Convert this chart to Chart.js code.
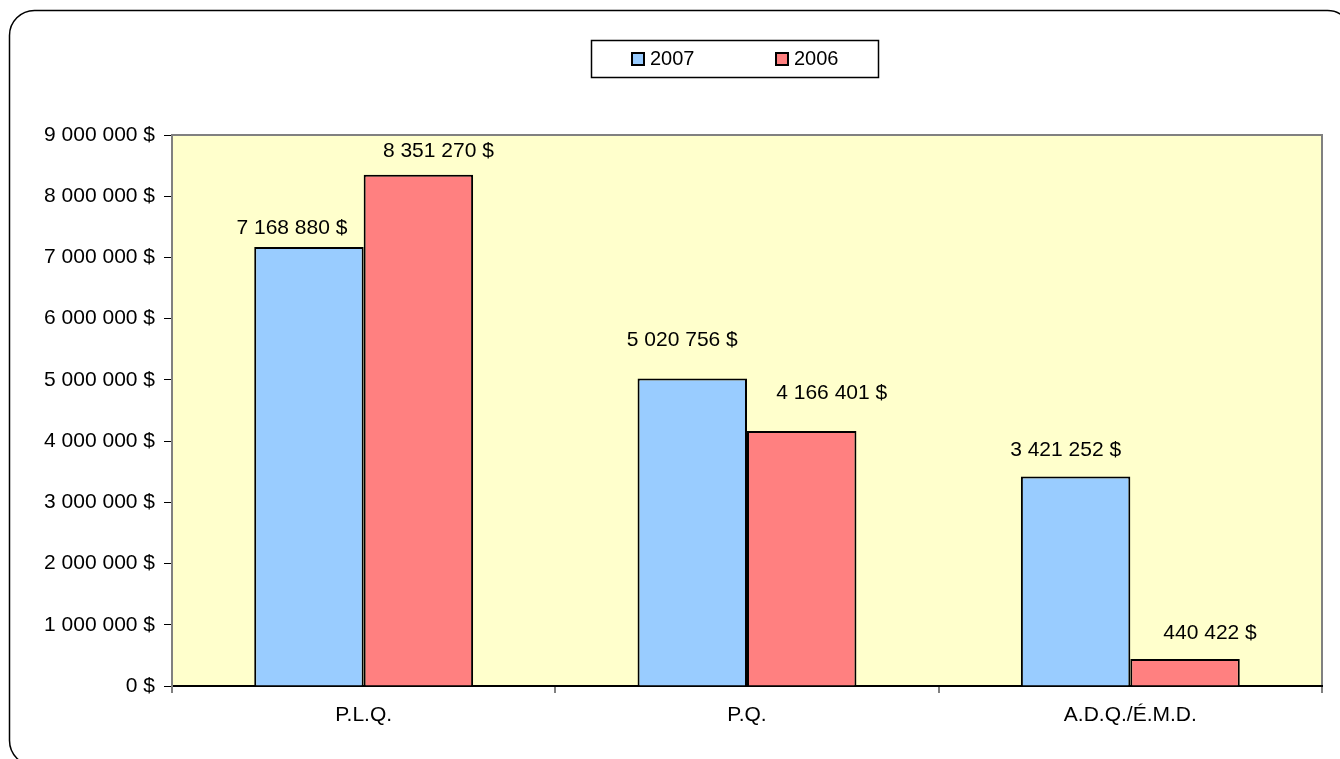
<!DOCTYPE html>
<html>
<head>
<meta charset="utf-8">
<title>P.L.Q. / P.Q. / A.D.Q.</title>
<script src="https://cdn.jsdelivr.net/npm/chart.js@4"></script>
<style>
    body { margin: 0; background: #fff; }
    #wrap { width: 1340px; height: 759px; }
</style>
</head>
<body>
<div id="wrap"><canvas id="barChart"></canvas></div>
<script>
// Chart data
const categories = ['P.L.Q.', 'P.Q.', 'A.D.Q./É.M.D.'];
const values2007 = [7168880, 5020756, 3421252];
const values2006 = [8351270, 4166401, 440422];
const yTicks = [0, 1000000, 2000000, 3000000, 4000000, 5000000, 6000000, 7000000, 8000000, 9000000];

const FONT = '"Liberation Sans", Arial, sans-serif';

// Label nudges (px) relative to bar top, per dataset / category
const labelNudge = [
    [[-17, -19], [-10, -38], [-10, -26]],
    [[20, -24], [30, -38], [25, -26]]
];

function money(v) {
    return String(v).replace(/\B(?=(\d{3})+(?!\d))/g, ' ') + ' $';
}

// Frame, plot background, legend box
const decorPlugin = {
    id: 'decor',
    beforeDraw(chart) {
        const ctx = chart.ctx;
        const a = chart.chartArea;
        ctx.save();
        ctx.fillStyle = '#fff';
        ctx.fillRect(0, 0, chart.width, chart.height);

        // rounded outer frame
        ctx.beginPath();
        ctx.roundRect(9.5, 10.5, 1343, 755, 25);
        ctx.lineWidth = 1.5;
        ctx.strokeStyle = '#000';
        ctx.stroke();

        // plot area
        ctx.fillStyle = '#FFFFCC';
        ctx.fillRect(a.left, a.top, a.right - a.left, a.bottom - a.top);
        ctx.beginPath();
        ctx.moveTo(a.left, a.bottom);
        ctx.lineTo(a.left, a.top);
        ctx.lineTo(a.right, a.top);
        ctx.lineTo(a.right, a.bottom);
        ctx.lineWidth = 2;
        ctx.strokeStyle = '#808080';
        ctx.stroke();
        ctx.restore();
    },
    afterDraw(chart) {
        const ctx = chart.ctx;
        ctx.save();
        ctx.beginPath();
        ctx.rect(591.5, 40.5, 287, 37);
        ctx.lineWidth = 1.5;
        ctx.strokeStyle = '#000';
        ctx.stroke();

        const itemX = [631, 775];
        ctx.font = '20px ' + FONT;
        ctx.textBaseline = 'middle';
        chart.data.datasets.forEach((ds, i) => {
            const x = itemX[i];
            ctx.fillStyle = ds.backgroundColor;
            ctx.fillRect(x, 52, 14, 14);
            ctx.lineWidth = 2;
            ctx.strokeStyle = '#000';
            ctx.strokeRect(x + 1, 53, 12, 12);
            ctx.fillStyle = '#000';
            ctx.fillText(ds.label, x + 19, 59);
        });
        ctx.restore();
    }
};

// Value labels above bars
const valueLabels = {
    id: 'valueLabels',
    afterDatasetsDraw(chart) {
        const ctx = chart.ctx;
        ctx.save();
        ctx.font = '21px ' + FONT;
        ctx.fillStyle = '#000';
        ctx.textAlign = 'center';
        ctx.textBaseline = 'middle';
        chart.data.datasets.forEach((ds, di) => {
            chart.getDatasetMeta(di).data.forEach((bar, i) => {
                const n = labelNudge[di][i];
                ctx.fillText(money(ds.data[i]), bar.x + n[0], bar.y + n[1]);
            });
        });
        ctx.restore();
    }
};

new Chart(document.getElementById('barChart'), {
    type: 'bar',
    data: {
        labels: categories,
        datasets: [
            {
                label: '2007',
                data: values2007,
                backgroundColor: '#99CCFF',
                borderColor: '#000',
                borderWidth: 2
            },
            {
                label: '2006',
                data: values2006,
                backgroundColor: '#FF8080',
                borderColor: '#000',
                borderWidth: 2
            }
        ]
    },
    options: {
        responsive: true,
        maintainAspectRatio: false,
        animation: false,
        categoryPercentage: 0.571,
        barPercentage: 1,
        layout: { padding: { top: 135, right: 18, left: 0, bottom: 0 } },
        plugins: {
            legend: { display: false },
            tooltip: { enabled: false }
        },
        scales: {
            x: {
                grid: {
                    offset: true,
                    drawOnChartArea: false,
                    tickLength: 7,
                    color: '#808080',
                    lineWidth: 2
                },
                border: { color: '#000', width: 2 },
                ticks: {
                    font: { family: FONT, size: 21 },
                    color: '#000',
                    padding: 10
                },
                afterFit: s => { s.height = 73; }
            },
            y: {
                min: 0,
                max: 9000000,
                afterBuildTicks: s => { s.ticks = yTicks.map(v => ({ value: v })); },
                grid: {
                    drawOnChartArea: false,
                    tickLength: 8,
                    color: '#000'
                },
                border: { color: '#808080', width: 2 },
                ticks: {
                    font: { family: FONT, size: 21 },
                    color: '#000',
                    padding: 9,
                    callback: v => money(v)
                },
                afterFit: s => { s.width = 172; }
            }
        }
    },
    plugins: [decorPlugin, valueLabels]
});
</script>
</body>
</html>
